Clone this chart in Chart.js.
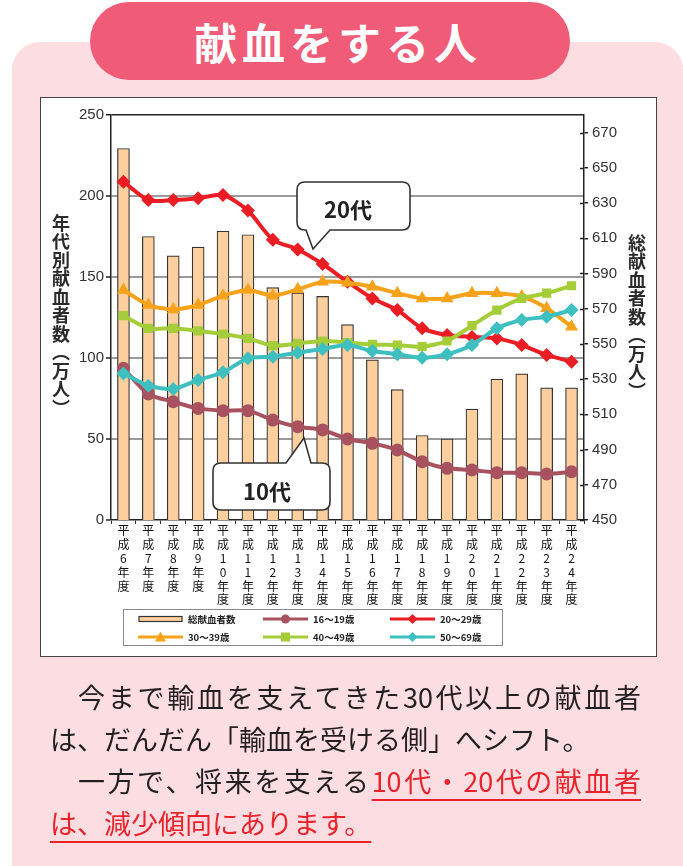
<!DOCTYPE html>
<html>
<head>
<meta charset="utf-8">
<script src="https://cdn.jsdelivr.net/npm/chart.js@4"></script>
<style>
  body { margin: 0; width: 683px; height: 866px; overflow: hidden; background: #fff; position: relative;
         font-family: "Noto Sans CJK JP", sans-serif; }
  .panel { position: absolute; left: 12px; top: 42px; width: 671px; height: 860px; background: #fcdde1;
           border-radius: 28px; }
  .pill { position: absolute; left: 90px; top: 2px; width: 480px; height: 78px; border-radius: 39px;
          background: #f05b77; color: #fff; font-size: 43px; font-weight: bold; letter-spacing: 5px;
          text-align: center; line-height: 78px; padding-left: 16px; box-sizing: border-box; }
  .box { position: absolute; left: 40px; top: 97px; width: 617px; height: 560px; background: #fff; }
  .box canvas { position: absolute; left: 0; top: 0; }
  .frame { position: absolute; left: 40px; top: 97px; width: 617px; height: 560px; border: 1.5px solid #444;
           box-sizing: border-box; pointer-events: none; }
  .vtitle { position: absolute; writing-mode: vertical-rl; font-size: 18px; font-weight: bold; color: #2a2a2a;
            line-height: 1; letter-spacing: 0.5px; }
  .bubble { position: absolute; overflow: visible; }
  .btext { position: absolute; font-size: 22px; font-weight: bold; color: #222; line-height: 1; }
  .legend { position: absolute; left: 123px; top: 609px; width: 380px; height: 37px; border: 1px solid #8a8a8a;
            box-sizing: border-box; }
  .li { position: absolute; height: 12px; font-size: 9.5px; font-weight: bold; color: #222; line-height: 12px;
        white-space: nowrap; }
  .li svg { position: absolute; left: 0; top: 0; }
  .li span { position: absolute; top: 0; }
  .txt { position: absolute; left: 50px; width: 591px; height: 42px; line-height: 42px; font-size: 27px;
         color: #231f20; white-space: nowrap; box-sizing: border-box; }
  .just { text-align: justify; text-align-last: justify; padding-left: 28px; }
  .red { color: #e8232c; text-decoration: underline; text-decoration-color: #e8232c;
         text-decoration-thickness: 2px; text-underline-offset: 7px; }
</style>
</head>
<body>
<div class="panel"></div>
<div class="pill">献血をする人</div>

<div class="box"><canvas id="chart" width="617" height="560"></canvas></div>
<div class="frame"></div>

<div class="vtitle" style="left:52px; top:214px;">年代別献血者数（万人）</div>
<div class="vtitle" style="left:628px; top:234px;">総献血者数（万人）</div>

<svg class="bubble" style="left:0; top:0;" width="683" height="866">
  <path d="M305,182 H402 Q410,182 410,190 V222 Q410,230 402,230 H330 L313,249 L306,230 H305 Q297,230 297,222 V190 Q297,182 305,182 Z"
        fill="#fff" stroke="#333" stroke-width="1.6"/>
  <path d="M221,463 H286 L304,438 L311,463 H322 Q330,463 330,471 V502 Q330,510 322,510 H221 Q213,510 213,502 V471 Q213,463 221,463 Z"
        fill="#fff" stroke="#333" stroke-width="1.6"/>
</svg>
<div class="btext" style="left:324px; top:197px;">20代</div>
<div class="btext" style="left:243px; top:479px;">10代</div>

<div class="legend" id="legend"></div>

<div class="txt just" style="top:676px;">今まで輸血を支えてきた30代以上の献血者</div>
<div class="txt" style="top:718px;">は、だんだん「輸血を受ける側」へシフト。</div>
<div class="txt just" style="top:760px;">一方で、将来を支える<span class="red">10代・20代の献血者</span></div>
<div class="txt" style="top:802px;"><span class="red">は、減少傾向にあります。</span></div>

<script>
// 平成6年度〜平成24年度
const years = [6, 7, 8, 9, 10, 11, 12, 13, 14, 15, 16, 17, 18, 19, 20, 21, 22, 23, 24];
const xLabels = years.map(y => ['平', '成'].concat(String(y).split(''), ['年', '度']));

// 総献血者数（万人） 右軸
const total = [661, 611, 600, 605, 614, 612, 582, 579, 577, 561, 541, 524, 498, 496, 513, 530, 533, 525, 525];

// 年代別献血者数（万人） 左軸
const age16 = [93.6, 77.8, 73.0, 68.9, 67.5, 67.5, 61.7, 57.6, 55.6, 50.0, 47.3, 43.2, 36.0, 31.9, 30.9, 29.2, 29.2, 28.4, 29.8];
const age20 = [208.8, 197.5, 197.5, 198.6, 200.6, 191.0, 173.0, 167.0, 158.0, 147.0, 136.8, 129.6, 118.3, 114.2, 113.0, 112.1, 108.0, 101.9, 97.7];
const age30 = [142.0, 132.7, 130.0, 132.7, 138.5, 142.0, 138.5, 142.4, 147.0, 146.5, 144.0, 140.0, 136.8, 136.8, 140.0, 140.0, 138.0, 130.7, 119.3];
const age40 = [126.1, 118.3, 118.3, 116.7, 114.8, 112.1, 107.6, 109.0, 110.5, 109.5, 108.4, 108.0, 107.0, 110.5, 120.0, 129.6, 136.8, 140.0, 144.6];
const age50 = [90.5, 82.9, 80.9, 86.4, 91.2, 99.8, 100.8, 103.3, 105.6, 108.0, 104.3, 102.3, 100.2, 102.3, 108.0, 118.3, 123.5, 125.5, 129.6];

const leftTicks = [0, 50, 100, 150, 200, 250];

const C_BAR = '#fdcf9e', C16 = '#a8525f', C20 = '#ea1c24', C30 = '#f7a21b', C40 = '#a5cd39', C50 = '#3fc0c0';

function lineSet(label, data, color, style, r, order) {
  return {
    type: 'line', label, data, yAxisID: 'y', order,
    borderColor: color, backgroundColor: color, borderWidth: 4,
    pointStyle: style, pointRadius: r, pointBorderWidth: 0, pointBackgroundColor: color,
    tension: 0.25
  };
}

// 右軸の内向き目盛り
const innerTicks = {
  id: 'innerTicks',
  afterDraw(chart) {
    const s = chart.scales.y1, c = chart.ctx;
    c.save();
    c.strokeStyle = '#222';
    c.lineWidth = 1.5;
    s.ticks.forEach(t => {
      const py = Math.round(s.getPixelForValue(t.value)) + 0.5;
      c.beginPath();
      c.moveTo(s.left - 4, py);
      c.lineTo(s.left, py);
      c.stroke();
    });
    c.restore();
  }
};

Chart.defaults.font.family = '"Liberation Sans", Arial, sans-serif';

new Chart(document.getElementById('chart'), {
  data: {
    labels: xLabels,
    datasets: [
      { type: 'bar', label: '総献血者数', data: total, yAxisID: 'y1', order: 10,
        backgroundColor: C_BAR, borderColor: '#333', borderWidth: 1.2, barThickness: 12 },
      lineSet('16～19歳', age16, C16, 'circle', 6.5, 5),
      lineSet('20～29歳', age20, C20, 'rectRot', 7, 4),
      lineSet('30～39歳', age30, C30, 'triangle', 7.5, 3),
      lineSet('40～49歳', age40, C40, 'rect', 6.5, 2),
      lineSet('50～69歳', age50, C50, 'rectRot', 7, 1)
    ]
  },
  options: {
    responsive: false,
    animation: false,
    devicePixelRatio: 1,
    layout: { padding: { top: 18, left: 0, right: 0, bottom: 0 } },
    plugins: { legend: { display: false }, tooltip: { enabled: false } },
    scales: {
      x: {
        afterFit(s) { s.height = 137; },
        grid: { drawOnChartArea: false, offset: true, tickLength: 4, color: '#333', lineWidth: 1 },
        border: { color: '#222', width: 1.5 },
        ticks: { autoSkip: false, maxRotation: 0, minRotation: 0, padding: 0, color: '#111',
                 font: { family: '"Noto Sans CJK JP", sans-serif', size: 12, lineHeight: 1.15 } }
      },
      y: {
        position: 'left', min: 0, max: 250,
        afterFit(s) { s.width = 71; },
        afterBuildTicks(s) { s.ticks = leftTicks.map(v => ({ value: v })); },
        grid: {
          tickLength: 5,
          color: ctx => (ctx.tick && ctx.tick.value === 250) ? '#222' : '#9a9a9a',
          lineWidth: ctx => (ctx.tick && ctx.tick.value === 0) ? 0 : (ctx.tick && ctx.tick.value === 250 ? 1.5 : 2),
          tickColor: '#222', tickWidth: 1.5
        },
        border: { color: '#222', width: 1.5 },
        ticks: { padding: 2, color: '#333', font: { size: 15 } }
      },
      y1: {
        position: 'right', min: 450, max: 680,
        afterFit(s) { s.width = 73; },
        grid: { drawOnChartArea: false, tickLength: 4, color: '#222', lineWidth: 1.5 },
        border: { color: '#222', width: 1.5 },
        ticks: { stepSize: 10, padding: 4, color: '#333', font: { size: 15 },
                 callback: v => ((v - 450) % 20 === 0 && v <= 670) ? v : '' }
      }
    }
  },
  plugins: [innerTicks]
});

// 凡例
const legendItems = [
  { label: '総献血者数', kind: 'bar', x: 14, y: 3 },
  { label: '16～19歳', color: C16, mark: 'circle', x: 139, y: 3 },
  { label: '20～29歳', color: C20, mark: 'diamond', x: 266, y: 3 },
  { label: '30～39歳', color: C30, mark: 'triangle', x: 14, y: 21 },
  { label: '40～49歳', color: C40, mark: 'square', x: 139, y: 21 },
  { label: '50～69歳', color: C50, mark: 'diamond', x: 266, y: 21 }
];
function markSvg(it) {
  if (it.kind === 'bar') {
    return '<rect x="1" y="3.5" width="43" height="5" fill="' + C_BAR + '" stroke="#333" stroke-width="1.2"/>';
  }
  let m = '';
  const c = it.color;
  if (it.mark === 'circle') m = '<circle cx="22.5" cy="6" r="4.5" fill="' + c + '"/>';
  if (it.mark === 'diamond') m = '<polygon points="22.5,1 27.5,6 22.5,11 17.5,6" fill="' + c + '"/>';
  if (it.mark === 'triangle') m = '<polygon points="22.5,0.5 28,10.5 17,10.5" fill="' + c + '"/>';
  if (it.mark === 'square') m = '<rect x="18" y="1.5" width="9" height="9" fill="' + c + '"/>';
  return '<line x1="0" y1="6" x2="45" y2="6" stroke="' + c + '" stroke-width="3"/>' + m;
}
const lg = document.getElementById('legend');
legendItems.forEach(it => {
  const d = document.createElement('div');
  d.className = 'li';
  d.style.left = it.x + 'px';
  d.style.top = it.y + 'px';
  d.innerHTML = '<svg width="46" height="12">' + markSvg(it) + '</svg><span style="left:50px">' + it.label + '</span>';
  lg.appendChild(d);
});
</script>
</body>
</html>
